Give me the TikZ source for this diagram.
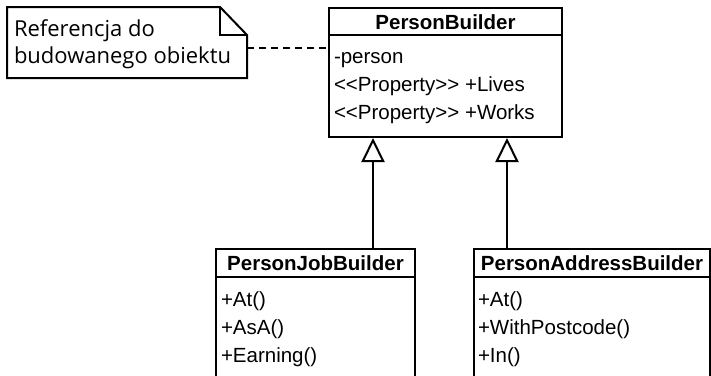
\documentclass[tikz,border=0pt]{standalone}
\usepackage{fontspec}
\newfontfamily\clsfont{Liberation Sans}
\newfontfamily\notefont{Open Sans}
\usetikzlibrary{arrows.meta,calc}
\newlength\notew
\begin{document}
\settowidth\notew{\notefont\fontsize{20}{27}\selectfont budowanego obiektu}
\pgfmathsetmacro\notesize{20*217/\notew}
\begin{tikzpicture}[x=1pt,y=-1pt,line width=2pt,
  box/.style={draw,fill=white,inner sep=0pt,anchor=north west},
  ctitle/.style={font=\clsfont\fontsize{20.5}{24}\selectfont\bfseries,anchor=base,inner sep=0pt},
  crow/.style={font=\clsfont\fontsize{20.5}{24}\selectfont,anchor=base west,inner sep=0pt},
  inh/.style={-{Triangle[open,length=24pt,width=23pt,line width=2pt]}},
  notetext/.style={font=\notefont\fontsize{\notesize}{27}\selectfont,align=left,anchor=base west,inner sep=0pt},
  dep/.style={dash pattern=on 7pt off 5pt}
]
\useasboundingbox (0,0) rectangle (711,375);
\clip (0,0) rectangle (711,375);
\fill[white] (0,0) rectangle (711,375);

% PersonBuilder
\node[box,minimum width=233pt,minimum height=129pt] (pb) at (328,7) {};
\draw ($(pb.north west)+(0,28)$) -- ($(pb.north east)+(0,28)$);
\node[ctitle] (pbt) at ($(pb.north)+(0,22)$) {PersonBuilder};
\node[crow] (pb1) at ($(pb.north west)+(5,56)$) {-person};
\node[crow] (pb2) at ($(pb.north west)+(5,84)$) {<<Property>> +Lives};
\node[crow] (pb3) at ($(pb.north west)+(5,112)$) {<<Property>> +Works};

% PersonJobBuilder
\node[box,minimum width=199pt,minimum height=160pt] (jb) at (215,248) {};
\draw ($(jb.north west)+(0,29)$) -- ($(jb.north east)+(0,29)$);
\node[ctitle] (jbt) at ($(jb.north)+(0,22)$) {PersonJobBuilder};
\node[crow] (jb1) at ($(jb.north west)+(5,58)$) {+At()};
\node[crow] (jb2) at ($(jb.north west)+(5,86)$) {+AsA()};
\node[crow] (jb3) at ($(jb.north west)+(5,114)$) {+Earning()};

% PersonAddressBuilder
\node[box,minimum width=236pt,minimum height=160pt] (ab) at (473,248) {};
\draw ($(ab.north west)+(0,29)$) -- ($(ab.north east)+(0,29)$);
\node[ctitle] (abt) at ($(ab.north)+(0,22)$) {PersonAddressBuilder};
\node[crow] (ab1) at ($(ab.north west)+(4,58)$) {+At()};
\node[crow] (ab2) at ($(ab.north west)+(4,86)$) {+WithPostcode()};
\node[crow] (ab3) at ($(ab.north west)+(4,114)$) {+In()};

% inheritance
\coordinate (x1) at (373,0);
\coordinate (x2) at (507,0);
\draw[inh] (jb.north -| x1) -- (pb.south -| x1);
\draw[inh] (ab.north -| x2) -- (pb.south -| x2);

% note
\node[minimum width=238pt,minimum height=69pt,inner sep=0pt,anchor=north west] (notebox) at (7,7) {};
\draw[fill=white] (notebox.north west) -- ($(notebox.north east)+(-27,0)$) -- ($(notebox.north east)+(0,28)$) -- (notebox.south east) -- (notebox.south west) -- cycle;
\draw ($(notebox.north east)+(-27,0)$) -- ($(notebox.north east)+(-27,28)$) -- ($(notebox.north east)+(0,28)$);
\node[notetext] (note) at (13,63) {Referencja do\\budowanego obiektu};

\coordinate (dy) at (0,48);
\draw[dep] (notebox.east |- dy) -- (pb.west |- dy);
\end{tikzpicture}
\end{document}
